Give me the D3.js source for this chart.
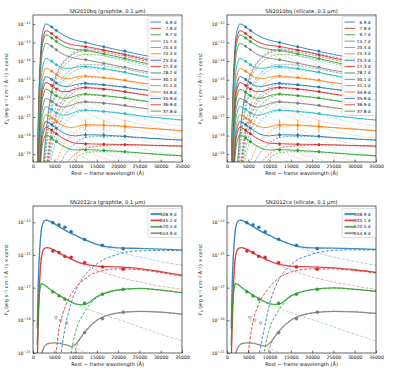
<!DOCTYPE html>
<html>
<head>
<meta charset="utf-8">
<script src="https://cdn.jsdelivr.net/npm/d3@7"></script>
<style>
  body { margin: 0; background: #fff; }
  svg text { font-family: "DejaVu Sans", sans-serif; fill: #111; }
</style>
</head>
<body>
<div id="chart"></div>
<script>
// ---------- shared axes data ----------
const waveGrid = [1000, 1200, 1500, 1800, 2000, 2500, 3000, 3500, 4000, 5000, 6000, 7000, 8000, 9000, 10000, 12000, 15000, 20000, 25000, 30000, 35000];
const xTickValues = [0, 5000, 10000, 15000, 20000, 25000, 30000, 35000];
const yTicksBq = [-19, -18, -17, -16, -15, -14, -13, -12];
const yTicksCa = [-21, -19, -17, -15, -13];
const colorCycle = ['#1f77b4', '#d62728', '#2ca02c', '#7f7f7f', '#17becf', '#ff7f0e'];

// ---------- SN2010bq (log10 flux) ----------
const epochsBq = ['6.9 d', '7.8 d', '9.7 d', '15.7 d', '20.4 d', '24.3 d', '25.3 d', '27.3 d', '28.2 d', '30.1 d', '31.1 d', '34.9 d', '35.9 d', '36.9 d', '37.8 d'];
// hot component: common shape (relative to peak) on waveGrid + peak level per epoch
const hotShapeBq = [-8, -5.6, -3.0, -1.5, -0.9, -0.25, 0, -0.03, -0.1, -0.27, -0.44, -0.6, -0.74, -0.87, -1.0, -1.22, -1.52, -1.93, -2.23, -2.47, -2.65];
const hotPeakBq = [-12.0, -12.36, -12.59, -13.04, -13.85, -14.38, -14.83, -15.15, -15.51, -16.0, -16.44, -16.89, -17.25, -17.55, -17.97];
// warm dust component
const dustWaveBq = [2500, 3000, 3500, 4000, 5000, 6000, 7000, 8000, 9000, 10000, 12000, 15000, 20000, 25000, 30000, 35000];
const dustBq = [
  [-19.35, -17.95, -16.85, -16.05, -15.05, -14.45, -14.07, -13.8, -13.62, -13.48, -13.35, -13.38, -13.55, -13.77, -13.97, -14.15],
  [-19.44, -18.04, -16.94, -16.14, -15.14, -14.54, -14.16, -13.89, -13.71, -13.57, -13.44, -13.47, -13.66, -13.92, -14.16, -14.38],
  [-19.64, -18.24, -17.14, -16.34, -15.34, -14.74, -14.36, -14.09, -13.91, -13.77, -13.64, -13.67, -13.86, -14.12, -14.37, -14.6],
  [-20.17, -18.77, -17.67, -16.87, -15.87, -15.27, -14.89, -14.62, -14.44, -14.3, -14.17, -14.2, -14.36, -14.57, -14.76, -14.94],
  [-20.36, -18.96, -17.86, -17.06, -16.06, -15.46, -15.08, -14.81, -14.63, -14.49, -14.36, -14.39, -14.56, -14.78, -14.98, -15.17],
  [-21.27, -19.87, -18.77, -17.87, -16.77, -16.12, -15.69, -15.39, -15.19, -15.02, -14.87, -14.89, -15.0, -15.17, -15.32, -15.47],
  [-21.65, -20.25, -19.15, -18.25, -17.15, -16.5, -16.07, -15.77, -15.57, -15.4, -15.25, -15.27, -15.37, -15.52, -15.65, -15.77],
  [-21.86, -20.46, -19.36, -18.46, -17.36, -16.71, -16.28, -15.98, -15.78, -15.61, -15.46, -15.48, -15.6, -15.78, -15.95, -16.1],
  [-22.22, -20.82, -19.72, -18.82, -17.72, -17.07, -16.64, -16.34, -16.14, -15.97, -15.82, -15.84, -15.95, -16.12, -16.27, -16.42],
  [-22.62, -21.22, -20.12, -19.22, -18.12, -17.47, -17.04, -16.74, -16.54, -16.37, -16.22, -16.24, -16.35, -16.51, -16.65, -16.78],
  [-23.07, -21.67, -20.57, -19.67, -18.57, -17.92, -17.49, -17.19, -16.99, -16.82, -16.67, -16.69, -16.79, -16.94, -17.06, -17.17],
  [-24.72, -23.32, -22.12, -21.12, -19.92, -19.12, -18.62, -18.27, -18.02, -17.8, -17.52, -17.47, -17.5, -17.58, -17.66, -17.74],
  [-25.32, -23.92, -22.72, -21.72, -20.52, -19.72, -19.22, -18.87, -18.62, -18.4, -18.12, -18.04, -18.05, -18.12, -18.19, -18.25],
  [-25.9, -24.5, -23.3, -22.3, -21.1, -20.3, -19.8, -19.45, -19.2, -18.98, -18.7, -18.58, -18.52, -18.52, -18.55, -18.57],
  [-26.15, -24.75, -23.55, -22.55, -21.35, -20.55, -20.05, -19.7, -19.45, -19.23, -18.95, -18.87, -18.88, -18.95, -19.03, -19.1]
];
const photBandsBq = [4400, 5500, 12350, 16620, 21590];
const photBq = [
  [-12.16, -12.35, -13.0, -13.22, -13.46],
  [-12.52, -12.71, -13.22, -13.41, -13.65],
  [-12.75, -12.94, -13.43, -13.61, -13.86],
  [-13.2, -13.39, -13.93, -14.12, -14.32],
  [-14.01, -14.2, -14.29, -14.4, -14.58],
  [-14.54, -14.73, -14.8, -14.88, -15.01],
  [-14.99, -15.18, -15.19, -15.27, -15.39],
  [-15.31, -15.5, -15.41, -15.51, -15.63],
  [-15.67, -15.86, -15.77, -15.86, -15.98],
  [-16.16, -16.35, -16.18, -16.26, -16.37],
  [-16.6, -16.79, -16.63, -16.7, -16.81],
  [-17.05, -17.24, -17.43, -17.45, -17.5],
  [-17.41, -17.6, -17.97, -17.98, -18.04],
  [-17.71, -17.9, -18.45, -18.47, -18.49],
  [-18.13, -18.32, -18.77, -18.8, -18.87]
];
const photErrBq = [
  [0.02, 0.02, 0.03, 0.03, 0.03], [0.02, 0.02, 0.03, 0.03, 0.03], [0.02, 0.02, 0.03, 0.03, 0.03],
  [0.02, 0.02, 0.03, 0.03, 0.03], [0.02, 0.02, 0.03, 0.03, 0.03], [0.02, 0.02, 0.03, 0.03, 0.03],
  [0.03, 0.03, 0.05, 0.05, 0.05], [0.03, 0.03, 0.04, 0.04, 0.04], [0.03, 0.03, 0.04, 0.04, 0.04],
  [0.03, 0.03, 0.06, 0.1, 0.06], [0.03, 0.03, 0.05, 0.05, 0.05], [0.05, 0.05, 0.3, 0.3, 0.35],
  [0.05, 0.05, 0.15, 0.15, 0.1], [0.05, 0.05, 0.08, 0.08, 0.08], [0.05, 0.05, 0.08, 0.08, 0.08]
];

// ---------- SN2012ca (log10 flux) ----------
const epochsCa = ['308.9 d', '345.1 d', '520.5 d', '554.9 d'];
const colorsCa = ['#1f77b4', '#d62728', '#2ca02c', '#7f7f7f'];
const hotCa = [
  [-19.5, -17.0, -15.0, -13.9, -13.4, -12.95, -12.86, -12.88, -12.94, -13.08, -13.24, -13.4, -13.55, -13.68, -13.8, -14.05, -14.37, -14.8, -15.12, -15.4, -15.63],
  [-21.5, -19.5, -17.0, -15.6, -15.1, -14.65, -14.56, -14.55, -14.58, -14.7, -14.85, -15.0, -15.12, -15.26, -15.38, -15.6, -15.92, -16.35, -16.65, -16.9, -17.1],
  [-20.5, -18.6, -17.4, -16.85, -16.75, -16.8, -16.9, -17.0, -17.1, -17.27, -17.45, -17.6, -17.75, -17.88, -18.0, -18.22, -18.52, -18.95, -19.4, -19.85, -20.25],
  [-26, -24, -22.5, -21.5, -21.1, -20.7, -20.5, -20.42, -20.4, -20.38, -20.4, -20.45, -20.52, -20.62, -20.72, -20.95, -21.3, -21.8, -22.2, -22.5, -22.8]
];
const dustWaveCa = [5000, 6000, 7000, 8000, 9000, 10000, 12000, 15000, 20000, 25000, 30000, 35000];
const dustCaGraphite = [
  [-26, -22.5, -20.3, -18.9, -17.9, -17.2, -16.3, -15.55, -14.95, -14.75, -14.72, -14.74],
  [-22.5, -19.7, -18.6, -17.9, -17.4, -17.0, -16.5, -16.05, -15.85, -15.9, -16.08, -16.3],
  [-32, -29, -26, -23.5, -21.0, -19.7, -18.55, -17.6, -17.15, -17.05, -17.15, -17.3],
  [-34, -31, -28, -25, -22, -20.8, -19.8, -19.0, -18.55, -18.45, -18.5, -18.62]
];
const dustCaSilicate = [
  [-28, -24.5, -22, -20.5, -19.2, -18.0, -16.6, -15.6, -14.95, -14.72, -14.68, -14.7],
  [-21.0, -19.2, -18.3, -17.7, -17.3, -16.95, -16.45, -16.05, -15.85, -15.85, -15.95, -16.1],
  [-31, -28, -25, -22.5, -20.6, -19.5, -18.45, -17.55, -17.12, -17.02, -17.1, -17.22],
  [-33, -30, -27, -24.5, -21.8, -20.7, -19.75, -19.0, -18.55, -18.45, -18.48, -18.58]
];
const photBandsCa = [4680, 6110, 7480, 8960, 12120, 16310, 21190];
const photCa = [
  [-13.02, -13.16, -13.3, -13.57, -14.04, -14.41, -14.61],
  [-14.75, -14.85, -15.08, -15.14, -15.47, -15.73, -15.87],
  [-17.25, -17.5, -17.7, null, -17.95, -17.4, -17.1],
  [null, null, null, null, -19.75, -18.9, -18.5]
];
const limitBandsCa = [5400, 6500, 7900];
const limitsCa = [-18.85, -19.03, -19.18];

// ---------- drawing ----------
const svg = d3.select('#chart').append('svg')
  .attr('width', 398).attr('height', 377);

function supLabel(sel, parts) {
  // parts: [text, 'sup'|'sub'|null]
  parts.forEach(([t, kind]) => {
    const ts = sel.append('tspan').text(t);
    if (kind === 'sup') ts.attr('baseline-shift', '35%').attr('font-size', '72%');
    if (kind === 'sub') ts.attr('baseline-shift', '-20%').attr('font-size', '72%');
  });
}

function drawPanel(cfg, idx) {
  const g = svg.append('g').attr('transform', `translate(${cfg.left},${cfg.top})`);
  const w = cfg.width, h = cfg.height;
  const x = d3.scaleLinear().domain([0, 35000]).range([0, w]);
  const y = d3.scaleLog().domain([Math.pow(10, cfg.yMin), Math.pow(10, cfg.yMax)]).range([h, 0]);

  const clipId = 'clip' + idx;
  g.append('clipPath').attr('id', clipId).append('rect').attr('width', w).attr('height', h);
  const plot = g.append('g').attr('clip-path', `url(#${clipId})`);

  const line = d3.line().x(d => x(d[0])).y(d => y(Math.pow(10, d[1]))).curve(d3.curveMonotoneX);

  cfg.hot.forEach((hot, i) => {
    const c = cfg.colors[i];
    const dust = cfg.dust[i];
    const hotPts = waveGrid.map((wv, k) => [wv, hot[k]]);
    const dustPts = cfg.dustWave.map((wv, k) => [wv, dust[k]]);
    const totPts = waveGrid.map((wv, k) => {
      const j = cfg.dustWave.indexOf(wv);
      const s = Math.pow(10, hot[k]) + (j < 0 ? 0 : Math.pow(10, dust[j]));
      return [wv, Math.log10(s)];
    });
    plot.append('path').attr('d', line(hotPts)).attr('fill', 'none')
      .attr('stroke', c).attr('stroke-width', cfg.lwThin).attr('stroke-opacity', 0.5)
      .attr('stroke-dasharray', cfg.hotDash);
    plot.append('path').attr('d', line(dustPts)).attr('fill', 'none')
      .attr('stroke', c).attr('stroke-width', cfg.lwThin).attr('stroke-opacity', 0.9)
      .attr('stroke-dasharray', cfg.dustDash);
    plot.append('path').attr('d', line(totPts)).attr('fill', 'none')
      .attr('stroke', c).attr('stroke-width', cfg.lw).attr('stroke-opacity', 0.85);

    // photometry
    const ph = cfg.phot[i];
    ph.forEach((v, k) => {
      if (v === null) return;
      const e = cfg.photErr ? cfg.photErr[i][k] : 0.03;
      const px = x(cfg.photBands[k]);
      plot.append('line').attr('x1', px).attr('x2', px)
        .attr('y1', y(Math.pow(10, v - e))).attr('y2', y(Math.pow(10, v + e)))
        .attr('stroke', c).attr('stroke-width', 0.8);
      plot.append('circle').attr('cx', px).attr('cy', y(Math.pow(10, v)))
        .attr('r', cfg.markerR).attr('fill', c).attr('stroke', c).attr('stroke-width', 0.3);
    });
  });

  if (cfg.limits) {
    cfg.limits.forEach((v, k) => {
      const px = x(limitBandsCa[k]), py = y(Math.pow(10, v));
      plot.append('path').attr('d', `M${px - 1.6},${py - 1.2}L${px + 1.6},${py - 1.2}L${px},${py + 1.6}Z`)
        .attr('fill', 'none').attr('stroke', '#7f7f7f').attr('stroke-width', 0.6);
    });
  }

  // axes frame
  g.append('rect').attr('width', w).attr('height', h).attr('fill', 'none')
    .attr('stroke', '#222').attr('stroke-width', 0.7);

  const xAxis = g.append('g').attr('transform', `translate(0,${h})`)
    .call(d3.axisBottom(x).tickValues(xTickValues).tickSize(-2.5).tickPadding(2.5).tickFormat(d3.format('d')));
  const yAxis = g.append('g')
    .call(d3.axisLeft(y).tickValues(cfg.yTicks.map(t => Math.pow(10, t))).tickSize(-2.5).tickPadding(2.5));
  [xAxis, yAxis].forEach(a => {
    a.select('.domain').remove();
    a.selectAll('.tick line').attr('stroke', '#222').attr('stroke-width', 0.6);
    a.selectAll('.tick text').attr('font-size', 4.6).attr('fill', '#222');
  });
  yAxis.selectAll('.tick text').each(function (d) {
    const t = d3.select(this);
    const p = Math.round(Math.log10(d));
    t.text('10');
    t.append('tspan').attr('dy', -2).attr('font-size', 3.3).text('\u2212' + Math.abs(p));
  });

  // title and labels
  g.append('text').attr('x', w / 2).attr('y', -2.5).attr('text-anchor', 'middle')
    .attr('font-size', 5.2).text(cfg.title);
  g.append('text').attr('x', w / 2).attr('y', h + 12.5).attr('text-anchor', 'middle')
    .attr('font-size', 5.0).text('Rest \u2212 frame wavelength (\u00c5)');
  const yl = g.append('text').attr('transform', `translate(${-cfg.yLabelOffset},${h / 2}) rotate(-90)`)
    .attr('text-anchor', 'middle').attr('font-size', 4.8);
  supLabel(yl, [['F', null], ['\u03bb', 'sub'], [' (erg s', null], ['\u22121', 'sup'], [' cm', null], ['\u22122', 'sup'], [' \u00c5', null], ['\u22121', 'sup'], [') \u00d7 const', null]]);

  // legend
  const L = cfg.legend;
  const lg = g.append('g').attr('transform', `translate(${L.x},${L.y})`);
  lg.append('rect').attr('width', L.w).attr('height', L.h).attr('fill', '#fff').attr('fill-opacity', 0.85)
    .attr('stroke', '#bbb').attr('stroke-width', 0.5).attr('rx', 1);
  cfg.epochs.forEach((lab, i) => {
    const yy = L.pad + i * L.step;
    lg.append('line').attr('x1', 2.5).attr('x2', 13).attr('y1', yy).attr('y2', yy)
      .attr('stroke', cfg.colors[i]).attr('stroke-width', L.lw).attr('stroke-opacity', 0.85);
    lg.append('text').attr('x', L.w - 5).attr('y', yy + 1.5).attr('text-anchor', 'end')
      .attr('font-size', L.fs).text(lab);
  });
}

const colorsBq = epochsBq.map((e, i) => colorCycle[i % colorCycle.length]);
const hotBq = hotPeakBq.map(p => hotShapeBq.map(s => s + p));
const legendBq = { x: 115, y: 1.5, w: 33.5, h: 99, pad: 5.5, step: 6.37, lw: 1.0, fs: 4.3 };
const legendCa = { x: 115, y: 2.5, w: 33.5, h: 29, pad: 5.5, step: 6.4, lw: 1.8, fs: 4.3 };

const panels = [
  { left: 33, top: 15, width: 149, height: 147, yMin: -19.42, yMax: -11.52, yTicks: yTicksBq,
    title: 'SN2010bq (graphite, 0.1 \u03bcm)', epochs: epochsBq, colors: colorsBq, hot: hotBq, dust: dustBq,
    dustWave: dustWaveBq, photBands: photBandsBq, phot: photBq, photErr: photErrBq, legend: legendBq,
    lw: 1.0, lwThin: 0.7, hotDash: '0.8,1', dustDash: '2.2,1.3', markerR: 1.25, yLabelOffset: 25 },
  { left: 227, top: 15, width: 149, height: 147, yMin: -19.42, yMax: -11.52, yTicks: yTicksBq,
    title: 'SN2010bq (silicate, 0.1 \u03bcm)', epochs: epochsBq, colors: colorsBq, hot: hotBq, dust: dustBq,
    dustWave: dustWaveBq, photBands: photBandsBq, phot: photBq, photErr: photErrBq, legend: legendBq,
    lw: 1.0, lwThin: 0.7, hotDash: '0.8,1', dustDash: '2.2,1.3', markerR: 1.25, yLabelOffset: 25 },
  { left: 33, top: 206, width: 149, height: 147, yMin: -21, yMax: -12, yTicks: yTicksCa,
    title: 'SN2012ca (graphite, 0.1 \u03bcm)', epochs: epochsCa, colors: colorsCa, hot: hotCa, dust: dustCaGraphite,
    dustWave: dustWaveCa, photBands: photBandsCa, phot: photCa, photErr: null, limits: limitsCa, legend: legendCa,
    lw: 1.3, lwThin: 0.9, hotDash: '2,1,0.6,1', dustDash: '3,1.6', markerR: 1.6, yLabelOffset: 25 },
  { left: 227, top: 206, width: 149, height: 147, yMin: -21, yMax: -12, yTicks: yTicksCa,
    title: 'SN2012ca (silicate, 0.1 \u03bcm)', epochs: epochsCa, colors: colorsCa, hot: hotCa, dust: dustCaSilicate,
    dustWave: dustWaveCa, photBands: photBandsCa, phot: photCa, photErr: null, limits: limitsCa, legend: legendCa,
    lw: 1.3, lwThin: 0.9, hotDash: '2,1,0.6,1', dustDash: '3,1.6', markerR: 1.6, yLabelOffset: 25 }
];
panels.forEach(drawPanel);
</script>
</body>
</html>
